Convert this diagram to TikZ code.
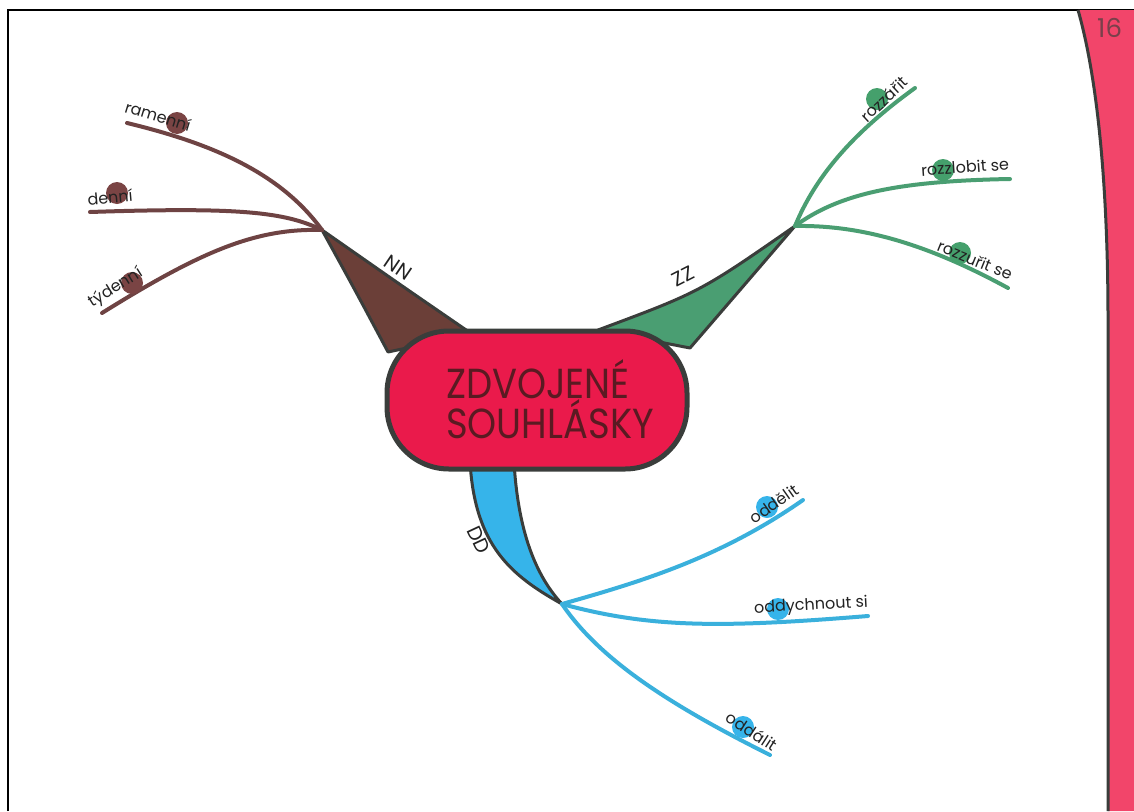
\documentclass[tikz,border=0pt]{standalone}
\usepackage{fontspec}
\setmainfont{Poppins}
\newfontfamily\titlefont[FakeStretch=0.88]{Poppins}
\definecolor{brownB}{HTML}{6E4343}
\definecolor{brownT}{HTML}{6B3F38}
\definecolor{brownD}{HTML}{7A4444}
\definecolor{greenB}{HTML}{4A9E72}
\definecolor{greenD}{HTML}{45A06C}
\definecolor{blueB}{HTML}{3AB0DC}
\definecolor{blueD}{HTML}{36B4EA}
\definecolor{blobfill}{HTML}{EA1A4B}
\definecolor{edgegrey}{HTML}{3A3D3B}
\definecolor{bandpink}{HTML}{F2456A}
\definecolor{titletext}{HTML}{5A1A22}
\definecolor{labeltext}{HTML}{222222}
\begin{document}
\begin{tikzpicture}[x=1pt,y=-1pt,
  twig/.style={line width=4pt,line cap=round},
  dotc/.style={circle,inner sep=0pt,minimum size=22pt},
  wordlbl/.style={font=\fontsize{16}{19}\selectfont,text=labeltext,inner sep=0pt},
  keylbl/.style={font=\fontsize{20}{24}\selectfont,text=labeltext,inner sep=0pt},
  taper/.style={draw=edgegrey,line width=3pt,line join=round}]
\useasboundingbox (0,0) rectangle (1134,811);
% frame
\draw[line width=2pt] (8,811) -- (8,10) -- (1134,10);
% right band
\fill[bandpink] (1078,10) .. controls (1098,80) and (1108,190) .. (1108,320) -- (1108,811) -- (1134,811) -- (1134,10) -- cycle;
\draw[edgegrey,line width=3pt] (1078,10) .. controls (1098,80) and (1108,190) .. (1108,320) -- (1108,811);
\node[font=\fontsize{26}{30}\selectfont,text=edgegrey!65!bandpink,anchor=west,inner sep=0pt] (pg) at (1097,28) {16};
% junctions
\coordinate (jn) at (322,230);
\coordinate (jg) at (795,226);
\coordinate (jd) at (562,604);
% tapered branches
\filldraw[taper,fill=brownT] (jn) .. controls (355,290) .. (388,352) -- (472,334) .. controls (405,288) .. (jn);
\filldraw[taper,fill=greenB] (jg) .. controls (700,292) .. (598,330) -- (690,348) .. controls (740,290) .. (jg);
\filldraw[taper,fill=blueD] (470,462) .. controls (475,545) and (510,575) .. (jd) .. controls (535,575) and (518,530) .. (514,462) -- cycle;
% central node
\node[draw=edgegrey,fill=blobfill,line width=5pt,rounded corners=62pt,minimum width=300pt,minimum height=138pt] (hub) at (537,400) {};
\node[align=left,text=titletext,font=\titlefont\fontsize{42}{37}\selectfont,inner sep=0pt,anchor=west] (title) at (446,399) {ZDVOJENÉ\\SOUHLÁSKY};
% branch labels
\node[keylbl,rotate=-34] (nnl) at (398,268) {NN};
\node[keylbl,rotate=27] (zzl) at (683,276) {ZZ};
\node[keylbl,rotate=-65] (ddl) at (479,540) {DD};
% end points
\coordinate (n1) at (127,123);
\coordinate (n2) at (90,212);
\coordinate (n3) at (102,313);
\coordinate (g1) at (915,88);
\coordinate (g2) at (1010,179);
\coordinate (g3) at (1008,288);
\coordinate (d1) at (803,500);
\coordinate (d2) at (868,616);
\coordinate (d3) at (770,755);
% twigs
\draw[twig,brownB] (jn) .. controls (280,172) and (210,143) .. (n1);
\draw[twig,brownB] (jn) .. controls (285,212) and (240,207) .. (n2);
\draw[twig,brownB] (jn) .. controls (255,228) and (200,252) .. (n3);
\draw[twig,greenB] (jg) .. controls (815,178) and (850,135) .. (g1);
\draw[twig,greenB] (jg) .. controls (840,193) and (900,181) .. (g2);
\draw[twig,greenB] (jg) .. controls (855,225) and (920,240) .. (g3);
\draw[twig,blueB] (jd) .. controls (640,582) and (720,558) .. (d1);
\draw[twig,blueB] (jd) .. controls (650,628) and (720,628) .. (d2);
\draw[twig,blueB] (jd) .. controls (600,660) and (670,705) .. (d3);
% dots
\node[dotc,fill=brownD] (dn1) at (177,123) {};
\node[dotc,fill=brownD] (dn2) at (117,193) {};
\node[dotc,fill=brownD] (dn3) at (132,283) {};
\node[dotc,fill=greenD] (dg1) at (877,99) {};
\node[dotc,fill=greenD] (dg2) at (943,170) {};
\node[dotc,fill=greenD] (dg3) at (960,253) {};
\node[dotc,fill=blueD] (dd1) at (767,507) {};
\node[dotc,fill=blueD] (dd2) at (778,609) {};
\node[dotc,fill=blueD] (dd3) at (743,727) {};
% words
\node[wordlbl,rotate=-17] (w1) at (158,116) {ramenní};
\node[wordlbl,rotate=5] (w2) at (110,197) {denní};
\node[wordlbl,rotate=32] (w3) at (116,288) {týdenní};
\node[wordlbl,rotate=43] (w4) at (884,99) {rozzářit};
\node[wordlbl,rotate=4] (w5) at (965,167) {rozzlobit se};
\node[wordlbl,rotate=-22] (w6) at (975,260) {rozzuřit se};
\node[wordlbl,rotate=35] (w7) at (774,504) {oddělit};
\node[wordlbl,rotate=3] (w8) at (811,606) {oddychnout si};
\node[wordlbl,rotate=-33] (w9) at (752,731) {oddálit};
\end{tikzpicture}
\end{document}
